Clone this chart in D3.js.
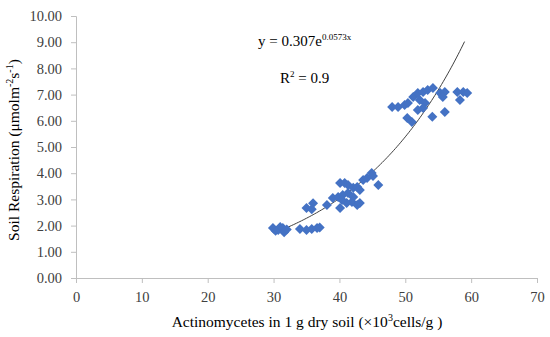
<!DOCTYPE html>
<html>
<head>
<meta charset="utf-8">
<script src="https://cdn.jsdelivr.net/npm/d3@7"></script>
<style>
  html, body { margin: 0; padding: 0; background: #fff; }
  svg { display: block; }
</style>
</head>
<body>
<svg id="chart" width="550" height="337"></svg>
<script>
// ---- data ----
const xValues = [29.9, 30.3, 30.7, 31.0, 31.4, 31.6, 32.0,
  34.0, 35.0, 35.8, 36.6, 37.0,
  35.0, 36.0, 35.8,
  38.1, 40.1,
  39.0, 39.8, 40.5, 41.3, 42.1, 41.9, 42.7, 43.1, 41.1, 40.4,
  40.1, 40.8, 41.3, 42.1, 42.7, 43.1, 43.6, 44.2, 44.9, 45.1, 45.9,
  48.0, 48.9, 49.9, 50.4, 51.2, 51.9, 52.7, 53.4, 54.2, 52.2, 53.0, 52.7, 51.9, 50.3, 51.0, 54.1,
  55.3, 56.0, 55.7, 56.0, 57.9, 58.3, 58.8, 59.4];
const yValues = [1.91, 1.80, 1.83, 1.95, 1.91, 1.75, 1.85,
  1.87, 1.83, 1.87, 1.91, 1.93,
  2.67, 2.85, 2.62,
  2.79, 2.67,
  3.05, 3.09, 3.17, 3.24, 3.09, 2.90, 2.79, 2.86, 2.86, 2.98,
  3.63, 3.63, 3.55, 3.44, 3.47, 3.36, 3.74, 3.82, 4.01, 3.89, 3.55,
  6.53, 6.53, 6.60, 6.68, 6.91, 7.06, 7.10, 7.18, 7.25, 6.79, 6.68, 6.49, 6.41, 6.11, 5.95, 6.15,
  7.06, 7.10, 6.91, 6.34, 7.10, 6.79, 7.10, 7.06];
const xTicks = [0, 10, 20, 30, 40, 50, 60, 70];
const yTicks = [0, 1, 2, 3, 4, 5, 6, 7, 8, 9, 10];
const trendA = 0.307, trendB = 0.0573;
const trendRange = [30, 59];

// ---- layout ----
const W = 550, H = 337;
const margin = { left: 76, right: 13, top: 16, bottom: 59 };
const svg = d3.select("#chart");
const font = "'Liberation Serif', 'DejaVu Serif', serif";

const x = d3.scaleLinear().domain([0, 70]).range([margin.left, W - margin.right]);
const y = d3.scaleLinear().domain([0, 10]).range([H - margin.bottom, margin.top]);

// axes
const xAxis = svg.append("g")
  .attr("transform", `translate(0,${H - margin.bottom})`)
  .call(d3.axisBottom(x).tickValues(xTicks).tickSize(5).tickPadding(9).tickFormat(d3.format("d")));
const yAxis = svg.append("g")
  .attr("transform", `translate(${margin.left},0)`)
  .call(d3.axisLeft(y).tickValues(yTicks).tickSize(5).tickPadding(9).tickFormat(d3.format(".2f")));

[xAxis, yAxis].forEach(g => {
  g.select(".domain").attr("stroke", "#bfbfbf").attr("stroke-width", 1);
  g.selectAll(".tick line").attr("stroke", "#bfbfbf");
  g.selectAll(".tick text").attr("fill", "#404040").style("font-family", font).style("font-size", "14.5px");
});

// trend line
const trendX = d3.range(trendRange[0], trendRange[1] + 0.001, 0.25);
const line = d3.line().x(d => x(d)).y(d => y(trendA * Math.exp(trendB * d)));
svg.append("path")
  .datum(trendX)
  .attr("d", line)
  .attr("fill", "none")
  .attr("stroke", "#404040")
  .attr("stroke-width", 1);

// points
const points = xValues.map((v, i) => [v, yValues[i]]);
const sym = d3.symbol().type(d3.symbolSquare).size(50);
svg.append("g").selectAll("path")
  .data(points)
  .join("path")
  .attr("d", sym)
  .attr("transform", d => `translate(${x(d[0])},${y(d[1])}) rotate(45)`)
  .attr("fill", "#4472c4");

// equation text
const eq = svg.append("text")
  .attr("x", 258).attr("y", 46)
  .style("font-family", font).style("font-size", "15px").attr("fill", "#000");
eq.append("tspan").text("y = 0.307e");
eq.append("tspan").attr("dy", -6).style("font-size", "9px").text("0.0573x");

const r2 = svg.append("text")
  .attr("x", 280).attr("y", 83)
  .style("font-family", font).style("font-size", "15px").attr("fill", "#000");
r2.append("tspan").text("R");
r2.append("tspan").attr("dy", -6).style("font-size", "9px").text("2");
r2.append("tspan").attr("dy", 6).text(" = 0.9");

// axis titles
const xt = svg.append("text")
  .attr("x", 307).attr("y", 327)
  .attr("text-anchor", "middle")
  .style("font-family", font).style("font-size", "15.5px").attr("fill", "#000");
xt.append("tspan").text("Actinomycetes in 1 g dry soil (×10");
xt.append("tspan").attr("dy", -6).style("font-size", "10px").text("3");
xt.append("tspan").attr("dy", 6).text("cells/g )");

const yt = svg.append("text")
  .attr("transform", `translate(19,150) rotate(-90)`)
  .attr("text-anchor", "middle")
  .style("font-family", font).style("font-size", "15.5px").attr("fill", "#000");
yt.append("tspan").text("Soil Respiration (μmolm");
yt.append("tspan").attr("dy", -6).style("font-size", "10px").text("-2");
yt.append("tspan").attr("dy", 6).text("s");
yt.append("tspan").attr("dy", -6).style("font-size", "10px").text("-1");
yt.append("tspan").attr("dy", 6).text(")");
</script>
</body>
</html>
